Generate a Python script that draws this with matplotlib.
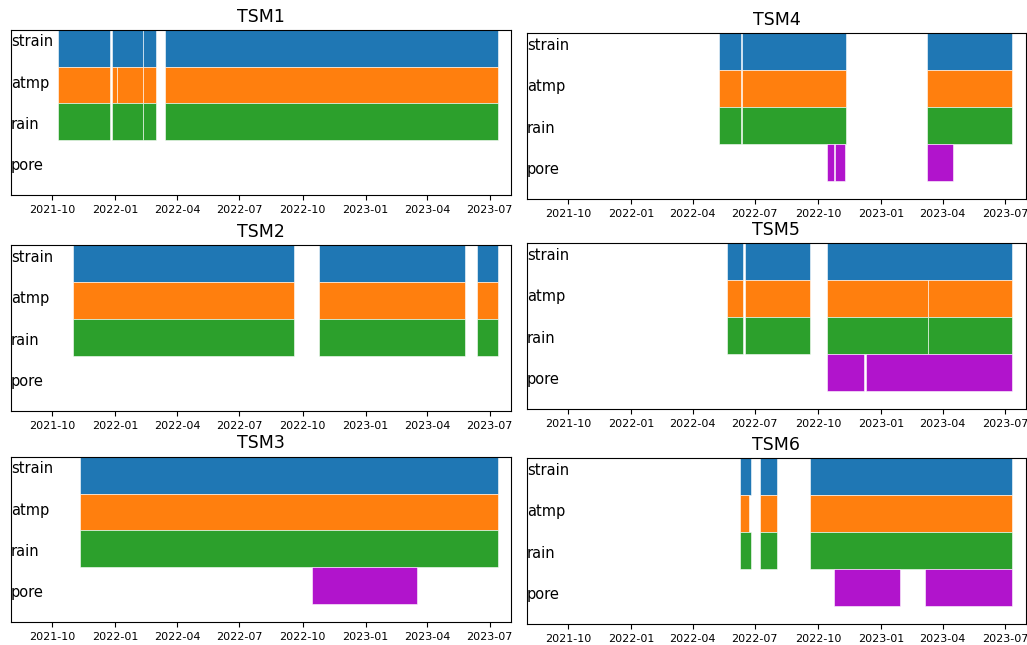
import pandas as pd
import matplotlib
matplotlib.use("Agg")
import matplotlib.pyplot as plt
import matplotlib.dates as mdates

SENSORS = ["strain", "atmp", "rain", "pore"]
COLORS = {"strain": "#1f77b4", "atmp": "#ff7f0e", "rain": "#2ca02c", "pore": "#b114cc"}
XLIM = ("2021-08-02", "2023-08-01")

# 센서별 데이터 수집 구간 (start, end)
TSM1 = {
    "strain": [("2021-10-10", "2021-12-24"), ("2021-12-27", "2022-02-10 20:00"),
               ("2022-02-11", "2022-03-01"), ("2022-03-14", "2023-07-13")],
    "atmp": [("2021-10-10", "2021-12-24"), ("2021-12-27", "2022-01-03 20:00"),
             ("2022-01-04", "2022-02-10 20:00"), ("2022-02-11", "2022-03-01"),
             ("2022-03-14", "2023-07-13")],
    "rain": [("2021-10-10", "2021-12-24"), ("2021-12-27", "2022-02-10 20:00"),
             ("2022-02-11", "2022-03-01"), ("2022-03-14", "2023-07-13")],
    "pore": [],
}
TSM2 = {
    "strain": [("2021-10-31", "2022-09-19"), ("2022-10-25", "2023-05-26"), ("2023-06-13", "2023-07-13")],
    "atmp": [("2021-10-31", "2022-09-19"), ("2022-10-25", "2023-05-26"), ("2023-06-12", "2023-07-13")],
    "rain": [("2021-10-31", "2022-09-19"), ("2022-10-25", "2023-05-26"), ("2023-06-12", "2023-07-13")],
    "pore": [],
}
TSM3 = {
    "strain": [("2021-11-10", "2023-07-13")],
    "atmp": [("2021-11-10", "2023-07-13")],
    "rain": [("2021-11-10", "2023-07-13")],
    "pore": [("2022-10-15", "2023-03-17")],
}
TSM4 = {
    "strain": [("2022-05-09", "2022-06-11"), ("2022-06-12 12:00", "2022-11-11"), ("2023-03-10", "2023-07-12")],
    "atmp": [("2022-05-09", "2022-06-11"), ("2022-06-12 12:00", "2022-11-11"), ("2023-03-10", "2023-07-12")],
    "rain": [("2022-05-09", "2022-06-11"), ("2022-06-12 12:00", "2022-11-11"), ("2023-03-10", "2023-07-12")],
    "pore": [("2022-10-15", "2022-10-24"), ("2022-10-26", "2022-11-10"), ("2023-03-09", "2023-04-16")],
}
TSM5 = {
    "strain": [("2022-05-22", "2022-06-14"), ("2022-06-17", "2022-09-19"), ("2022-10-15", "2023-07-12")],
    "atmp": [("2022-05-22", "2022-06-14"), ("2022-06-16", "2022-09-19"),
             ("2022-10-15", "2023-03-11"), ("2023-03-11 03:00", "2023-07-12")],
    "rain": [("2022-05-22", "2022-06-14"), ("2022-06-17", "2022-09-19"),
             ("2022-10-15", "2023-03-11"), ("2023-03-11 03:00", "2023-07-12")],
    "pore": [("2022-10-15", "2022-12-07"), ("2022-12-10", "2023-07-12")],
}
TSM6 = {
    "strain": [("2022-06-10", "2022-06-25"), ("2022-07-08", "2022-08-02"), ("2022-09-20", "2023-07-12")],
    "atmp": [("2022-06-10", "2022-06-22"), ("2022-07-08", "2022-08-02"), ("2022-09-20", "2023-07-12")],
    "rain": [("2022-06-10", "2022-06-25"), ("2022-07-08", "2022-08-02"), ("2022-09-20", "2023-07-12")],
    "pore": [("2022-10-24", "2023-01-29"), ("2023-03-06", "2023-07-12")],
}

STATIONS = [("TSM1", TSM1), ("TSM2", TSM2), ("TSM3", TSM3),
            ("TSM4", TSM4), ("TSM5", TSM5), ("TSM6", TSM6)]

# 패널 위치 [left, bottom, width, height] (figure 비율)
POS = [
    [0.0107, 0.6977, 0.4869, 0.2558],
    [0.0107, 0.3628, 0.4869, 0.2574],
    [0.0107, 0.0352, 0.4869, 0.2567],
    [0.5129, 0.6915, 0.4862, 0.2569],
    [0.5129, 0.3659, 0.4862, 0.2569],
    [0.5129, 0.0326, 0.4862, 0.2569],
]


def to_ranges(periods):
    out = []
    for s, e in periods:
        s0 = mdates.date2num(pd.Timestamp(s))
        e0 = mdates.date2num(pd.Timestamp(e))
        out.append((s0, e0 - s0))
    return out


def main():
    fig = plt.figure(figsize=(10.27, 6.45), dpi=100)
    for (name, st), pos in zip(STATIONS, POS):
        ax = fig.add_axes(pos)
        for i, sensor in enumerate(SENSORS):
            y = len(SENSORS) - 1 - i
            if st[sensor]:
                ax.broken_barh(to_ranges(st[sensor]), (y, 1), facecolors=COLORS[sensor],
                               edgecolor="white", linewidth=0.4)
            ax.text(0.0, 0.9 - 0.25 * i, sensor, transform=ax.transAxes, fontsize=10.5)
        ax.set_ylim(-0.5, 4)
        ax.set_xlim(pd.Timestamp(XLIM[0]), pd.Timestamp(XLIM[1]))
        ax.set_yticks([])
        ax.xaxis.set_major_locator(mdates.MonthLocator(bymonth=[1, 4, 7, 10]))
        ax.xaxis.set_major_formatter(mdates.DateFormatter("%Y-%m"))
        ax.tick_params(axis="x", labelsize=8)
        ax.set_title(name, fontsize=12.5)
    fig.savefig("out.png", dpi=100)
    plt.close(fig)


if __name__ == "__main__":
    main()
